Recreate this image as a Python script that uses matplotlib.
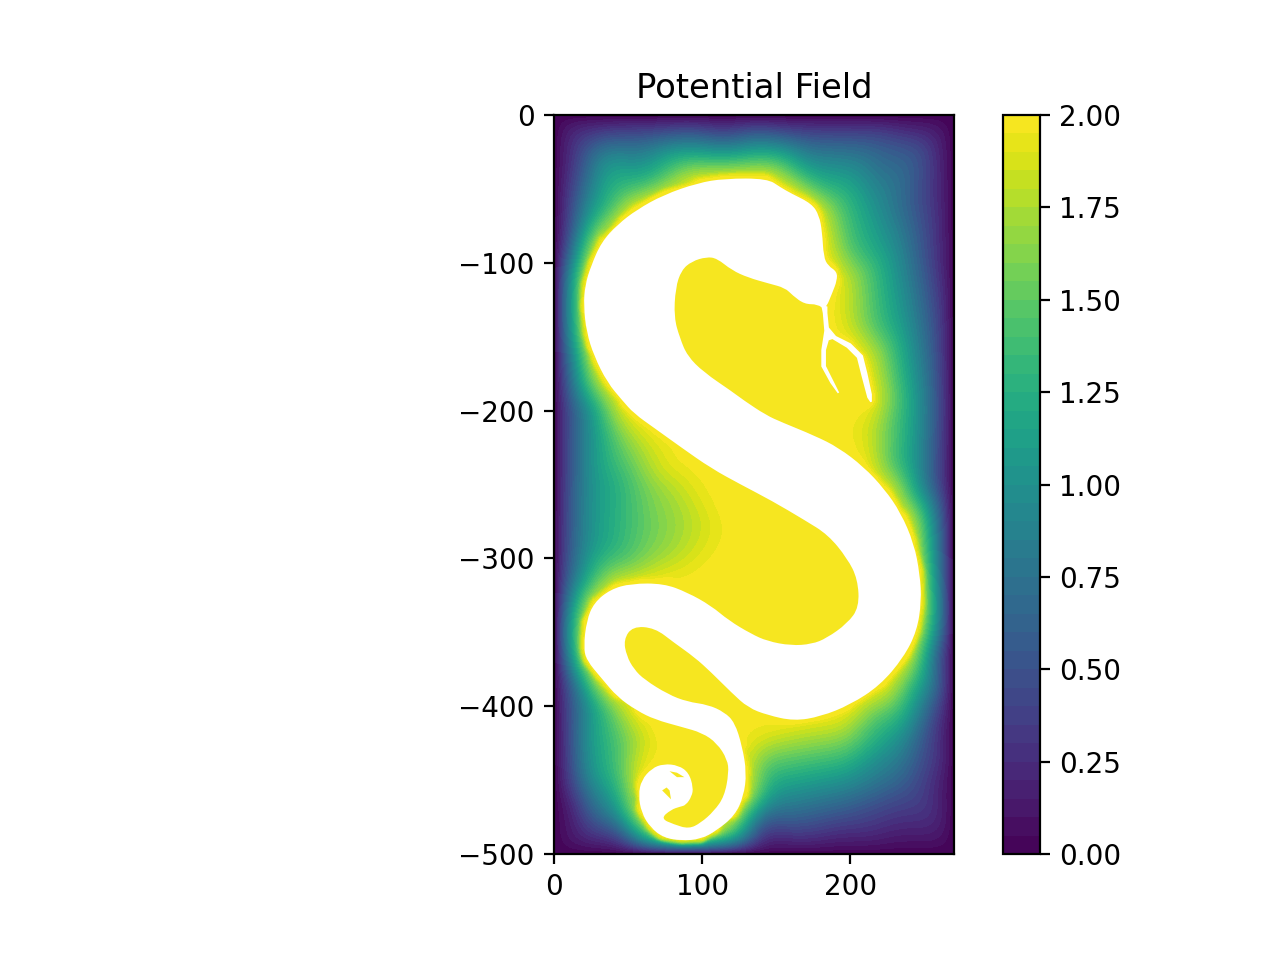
import numpy as np
from matplotlib import pyplot as plt
from matplotlib import tri
from matplotlib.path import Path
from matplotlib.patches import PathPatch

# swan outline, data units
outline = [(115,-43),(97,-46),(74,-54),(56,-64),(43,-74),(32,-86),(25,-102),(21,-115),(20,-129),(22,-147),
           (27,-163),(36,-181),(46,-193),(54,-202),(68,-212),(86,-225),(106,-239),(126,-250),(147,-261),(169,-274),
           (185,-284),(198,-300),(205,-314),(206,-333),(198,-344),(184,-354),(174,-358),(160,-359),(144,-356),(133,-351),
           (118,-342),(106,-332),(90,-323),(74,-317),(52,-317),(38,-321),(27,-330),(22,-342),(20,-360),(22,-369),
           (32,-381),(43,-394),(56,-403),(68,-409),(86,-414),(100,-418),(110,-425),(117,-436),(118,-445),(115,-461),
           (108,-471),(99,-479),(91,-483),(81,-480),(72,-476),(79,-470),(85,-468),(89,-467),(93,-461),(94,-455),
           (91,-445),(84,-440),(74,-439),(66,-442),(59,-450),(57,-460),(59,-472),(65,-482),(74,-489),(86,-491),
           (99,-490),(110,-484),(122,-474),(128,-461),(130,-445),(127,-427),(122,-411),(115,-404),(104,-399),(90,-397),
           (77,-392),(61,-382),(54,-375),(49,-366),(47,-355),(53,-346),(68,-347),(81,-357),(95,-367),(106,-377),
           (120,-391),(131,-401),(144,-406),(162,-410),(180,-407),(200,-399),(220,-386),(236,-367),(245,-349),(248,-329),
           (247,-311),(243,-290),(234,-269),(223,-253),(209,-238),(192,-225),(176,-217),(154,-208),(143,-203),(128,-193),
           (120,-187),(101,-174),(90,-163),(85,-151),(81,-137),(82,-117),(86,-105),(93,-99),(103,-96),(110,-97),
           (120,-105),(131,-110),(145,-114),(156,-117),(161,-122),(169,-128),(178,-128),(183,-132),(188,-120),(191,-112),
           (191,-106),(185,-102),(182,-96),(181,-79),(179,-68),(174,-60),(160,-53),(153,-49),(144,-43)]
crack = [(181,-129),(182,-134),(183,-146),(181,-159),(181,-170),(187,-181),(192,-188),(183,-170),(183,-159),(185,-152),
         (188,-151),(198,-157),(205,-164),(208,-176),(212,-191),(214,-194),(214,-189),(211,-175),(208,-163),(200,-155),
         (190,-150),(185,-144),(184,-134),(184,-130)]
island_a = [(78,-444),(83,-445),(88,-448),(83,-448)]
island_b = [(73,-457),(76,-455),(78,-457),(79,-463),(76,-460)]

# where the field reaches a given value, read by colour
frame_0 = [(0,0),(45,0),(90,0),(135,0),(180,0),(225,0),(270,0),(270,-50),(270,-100),(270,-150),(270,-200),(270,-250),
           (270,-300),(270,-350),(270,-400),(270,-450),(270,-500),(225,-500),(180,-500),(135,-500),(90,-500),(45,-500),
           (0,-500),(0,-450),(0,-400),(0,-350),(0,-300),(0,-250),(0,-200),(0,-150),(0,-100),(0,-50)]
iso_025 = [(12,-12),(30,-9),(60,-8),(115,-9),(170,-8),(220,-7),(255,-14),(260,-61),(260,-95),(264,-145),(265,-200),
           (264,-253),(266,-310),(265,-367),(262,-440),(258,-478),(198,-485),(140,-487),(86,-498.5),(45,-491),(22,-488),
           (8,-445),(8,-423),(7,-400),(6,-380),(2.5,-342),(3,-315),(4.5,-294),(6,-247),(6,-215),(6,-198),(3,-158),
           (2.3,-129),(4,-100),(8,-60)]
iso_050 = [(22,-22),(60,-14),(115,-15),(170,-15),(220,-16),(248,-23),(245,-61),(250,-95),(257,-145),(259,-200),
           (257,-253),(262,-310),(259,-367),(250,-420),(240,-455),(198,-472),(140,-477),(86,-497.5),(34,-482),(13,-445),
           (12,-423),(11,-400),(10,-380),(4.5,-342),(8,-315),(9,-294),(10,-247),(10,-215),(11,-198),(7,-158),(6,-129),
           (9,-100),(14,-70)]
iso_100 = [(34,-29),(60,-34),(115,-25),(170,-33),(216,-61),(230,-95),(239,-145),(247,-200),(245,-238),(257,-310),
           (251,-367),(235,-420),(198,-450),(147,-461),(132,-477),(100,-495),(86,-495),(62,-492),(40,-468),(23,-445),
           (21,-423),(25,-400),(18,-380),(10,-342),(18,-315),(23,-294),(24,-247),(25,-215),(25,-198),(13.5,-158),
           (11,-129),(14,-100),(22,-66)]
iso_150 = [(48,-56),(74,-48),(115,-34),(170,-47),(190,-61),(198,-95),(214,-145),(225,-200),(225,-238),(238,-262),
           (253,-310),(247,-367),(215,-405),(198,-428),(140,-438),(138,-461),(126,-477),(100,-493),(86,-493),(62,-485),
           (54,-463),(48,-445),(47,-423),(40,-400),(24,-380),(16,-342),(29,-319),(50,-306),(58,-291),(61,-277),(56,-246),
           (45,-224),(36,-198),(19,-158),(16,-129),(19,-100),(35,-75)]
iso_175 = [(61,-231),(79,-252),(90,-272),(86,-292),(68,-306),(41,-313)]
iso_190 = [(53,-61),(74,-50),(97,-42),(115,-40),(144,-40),(160,-50),(179,-62),(186,-95),(197,-145),(207,-155),
           (215,-175),(220,-195),(214,-238),(228,-253),(240,-270),(249,-310),(241,-367),(225,-388),(198,-409),(140,-423),
           (133,-461),(118,-480),(56,-470),(54,-450),(56,-440),(66,-423),(48,-400),(28,-380),(19,-342),(43,-315),(65,-310),
           (90,-304),(103,-291),(107,-276),(97,-259),(74,-244),(61,-215),(43,-198),(22,-158),(18,-129),(23,-100),(41,-75)]
iso_200 = [(90,-231),(117,-267),(123,-283),(119,-296),(106,-308),(74,-315),(73,-423),(80,-430),(193,-203),(193,-215)]
extras = [(205,-212,1.92),(218,-213,1.75),(40,-294,1.25),(43,-247,1.25)]

# later entries win if a point turns up twice
samples = {}
for pts, val in [(frame_0, 0), (iso_025, 0.25), (iso_050, 0.5), (iso_100, 1.0), (iso_150, 1.5), (iso_175, 1.75),
                 (iso_190, 1.9), (iso_200, 2.0), (outline, 2.0), (crack, 2.0)]:
    for p in pts:
        samples[p] = val
for px, py, val in extras:
    samples[(px, py)] = val
xs = np.array([p[0] for p in samples], dtype=float)
ys = np.array([p[1] for p in samples], dtype=float)
zs = np.array(list(samples.values()), dtype=float)


def blur(z, n):
    # box filter twice per axis, odd reflection keeps the frame at zero
    pad = n
    big = np.pad(z, pad, mode='reflect', reflect_type='odd')
    kernel = np.ones(n) / n
    kernel = np.convolve(kernel, kernel)
    for axis in (0, 1):
        big = np.apply_along_axis(np.convolve, axis, big, kernel, mode='same')
    return big[pad:-pad, pad:-pad]


def rounded_path(points):
    # quadratic spline through the midpoints, takes the corners off the traced outline
    pts = np.array(points, dtype=float)
    mids = (pts + np.roll(pts, -1, axis=0)) / 2
    verts = [mids[-1]]
    codes = [Path.MOVETO]
    for p, m in zip(pts, mids):
        verts += [p, m]
        codes += [Path.CURVE3, Path.CURVE3]
    return Path(verts, codes)


gx, gy = np.meshgrid(np.arange(0, 271.0), np.arange(-500, 1.0))
raw = tri.LinearTriInterpolator(tri.Triangulation(xs, ys), zs)(gx, gy).filled(0)
near = blur(raw, 3)
far = blur(raw, 17)
# tight next to the swan (where raw sits at 2), smooth further away
prox = np.clip(blur((raw >= 1.999).astype(float), 7) * 4, 0, 1)
field = np.clip(prox * near + (1 - prox) * far, 0, 2)

fig = plt.figure(figsize=(6.4, 4.8), dpi=200)
ax = fig.add_axes([554/1280, 106/960, 400/1280, 739/960])
cax = fig.add_axes([1003/1280, 106/960, 37/1280, 739/960])

levels = np.linspace(0, 2, 41)
yellow = plt.cm.viridis(1.975 / 2)
ax.set_facecolor(yellow)

cs = ax.contourf(gx, gy, field, levels=levels, cmap='viridis', vmin=0, vmax=2)

ax.add_patch(PathPatch(rounded_path(outline), fc='white', ec='none', zorder=3))
ax.fill(*zip(*crack), fc='white', ec='white', lw=0.6, zorder=3)
ax.fill(*zip(*island_a), color=yellow, lw=0, zorder=4)
ax.fill(*zip(*island_b), color=yellow, lw=0, zorder=4)

ax.set_xlim(0, 270)
ax.set_ylim(-500, 0)
ax.set_xticks([0, 100, 200])
ax.set_yticks([0, -100, -200, -300, -400, -500])
ax.set_title('Potential Field', fontsize=12.2, pad=6)

cb = fig.colorbar(cs, cax=cax)
cb.set_ticks(np.arange(0, 2.01, 0.25))
cb.ax.set_yticklabels(['%.2f' % t for t in np.arange(0, 2.01, 0.25)])

plt.savefig('out.png')
plt.close()
